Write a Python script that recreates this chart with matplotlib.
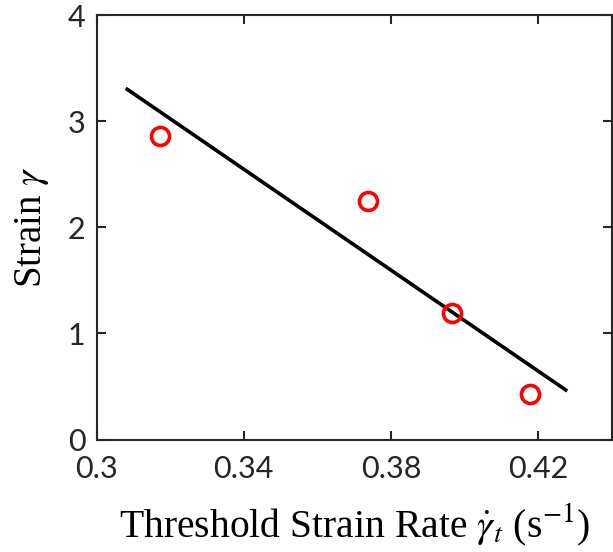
import matplotlib
matplotlib.use('Agg')
import matplotlib.pyplot as plt

# measured points
rate = [0.3172, 0.3738, 0.3966, 0.4177]
strain = [2.86, 2.25, 1.19, 0.43]

# linear fit line endpoints
fit_rate = [0.3079, 0.4279]
fit_strain = [3.31, 0.457]

xticks = [0.3, 0.34, 0.38, 0.42]
xticklabels = ['0.3', '0.34', '0.38', '0.42']
yticks = [0, 1, 2, 3, 4]

plt.rcParams['mathtext.fontset'] = 'stix'

fig = plt.figure(figsize=(6.13, 5.52), dpi=100)
ax = fig.add_axes([0.1576, 0.2038, 0.8404, 0.769])

ax.plot(fit_rate, fit_strain, color='black', lw=2.6, solid_capstyle='butt')
ax.plot(rate, strain, 'o', ms=13, mfc='none', mec='#ff0000', mew=2.6)

ax.set_xlim(0.3, 0.44)
ax.set_ylim(0, 4)
ax.set_xticks(xticks)
ax.set_xticklabels(xticklabels)
ax.set_yticks(yticks)

for s in ax.spines.values():
  s.set_linewidth(1.5)
  s.set_color('#262626')
ax.tick_params(direction='in', length=6.5, width=1.5, color='#262626',
               top=True, right=True, labelsize=22, labelcolor='#262626', pad=8)
ax.tick_params(axis='x', pad=11)
for lab in ax.get_xticklabels() + ax.get_yticklabels():
  lab.set_family('Lato')

ax.set_xlabel(r'Threshold Strain Rate $\dot{\gamma}_t$ (s$^{-1}$)',
              family='Liberation Serif', fontsize=28.5, labelpad=14)
ax.set_ylabel(r'Strain $\gamma$', family='Liberation Serif', fontsize=28, labelpad=12)

fig.savefig('out.png', dpi=100)
